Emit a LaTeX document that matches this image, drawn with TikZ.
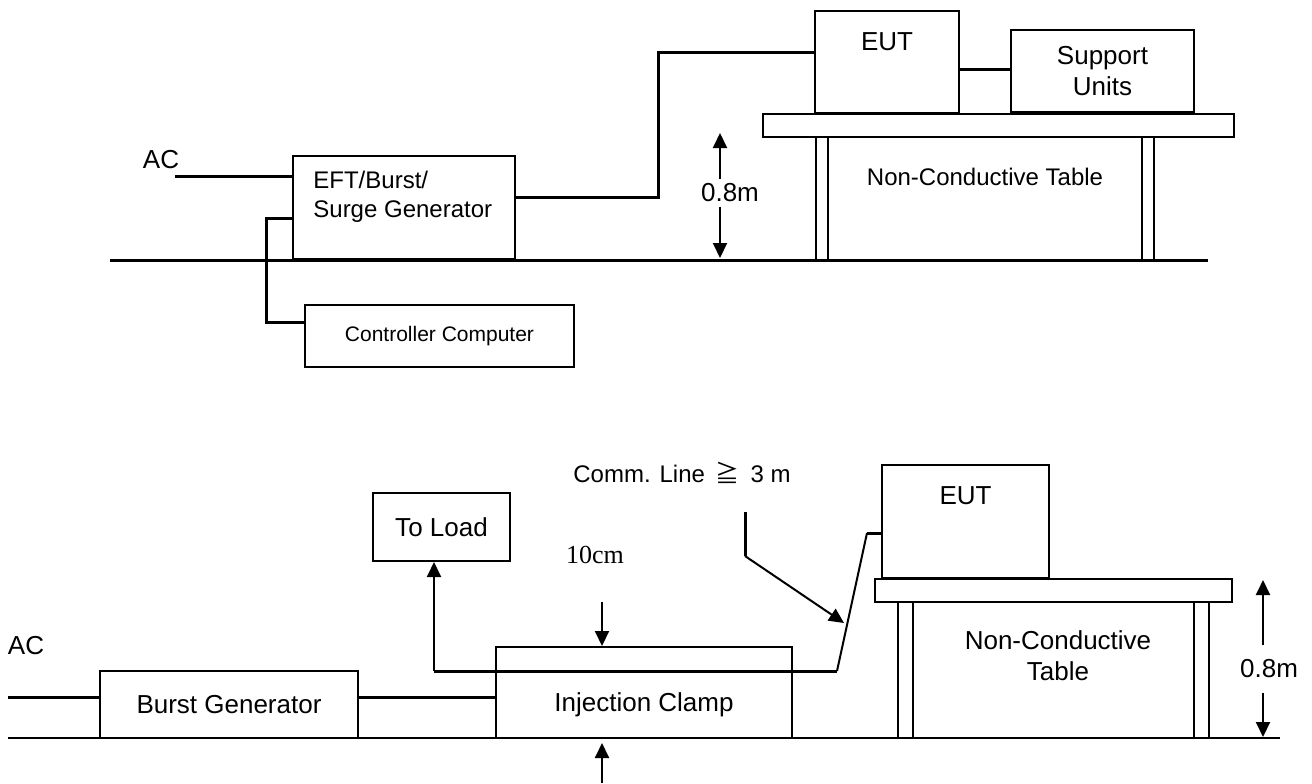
\documentclass[tikz,border=0pt]{standalone}
\usepackage{fontspec}
\setmainfont{Liberation Sans}
\newfontfamily\serif{Liberation Serif}
\newfontfamily\cjk{Noto Sans CJK JP}
\usetikzlibrary{arrows.meta}
\tikzset{
box/.style={draw, rectangle, line width=1pt, inner sep=0pt},
wire/.style={line width=1.5pt},
thin wire/.style={line width=1pt},
dim/.style={line width=1pt, -{Triangle[length=7.5pt,width=7pt]}},
big/.style={font=\fontsize{13}{15.5}\selectfont},
mid/.style={font=\fontsize{12}{14.5}\selectfont},
small/.style={font=\fontsize{10.5}{12.5}\selectfont},
}
\begin{document}
\begin{tikzpicture}[x=0.5pt,y=-0.5pt,big]
\useasboundingbox (0,0) rectangle (1312,783);
% ---------------- upper set-up ----------------
\draw[wire] (110,260) -- (1208,260);
\node[box, minimum width=111pt, minimum height=51.5pt] (gen) at (404,207.5) {};
\node[mid, anchor=north west, align=left, inner sep=0pt] (gentxt) at (313,171) {EFT/Burst/\\Surge Generator};
\node[box, minimum width=134.5pt, minimum height=31pt, small] (ctrl) at (439.5,336) {Controller Computer};
\node[box, minimum width=72pt, minimum height=51pt,
  label={[below=11pt, inner sep=0pt]north:EUT}] (eut) at (887,62) {};
\node[box, minimum width=91.5pt, minimum height=41pt, align=center] (sup) at (1102.5,71) {Support\\Units};
% the table
\node[box, minimum width=235.5pt, minimum height=11.5pt] (desk) at (998.5,125.5) {};
\node[box, minimum width=6pt, minimum height=61.5pt] (legl) at (822,198.5) {};
\node[box, minimum width=6pt, minimum height=61.5pt] (legr) at (1148,198.5) {};
\node[mid] (desktxt) at (985,177) {Non-Conductive Table};
% the wires
\node (ac) at (161,160) {AC};
\coordinate (acin) at (175,176);
\draw[wire] (acin) -- (acin -| gen.west);
\coordinate (up) at (658,197);
\draw[wire] (gen.east |- up) -- (up) -- (658,52) -- (eut.west |- {(0,52)});
\draw[wire] (eut.east |- {(0,69)}) -- (sup.west |- {(0,69)});
\coordinate (down) at (266,218);
\draw[wire] (gen.west |- down) -- (down) -- (266,322) -- (ctrl.west |- {(0,322)});
% the height
\node[inner sep=2pt] (hgt) at (730,193) {0.8m};
\coordinate (htop) at (720,133);
\coordinate (hbot) at (720,258);
\draw[dim] (hgt.north -| htop) -- (htop);
\draw[dim] (hgt.south -| hbot) -- (hbot);
% ---------------- lower set-up ----------------
\draw[thin wire] (8,738) -- (1280,738);
\node[box, minimum width=129pt, minimum height=33.5pt] (burst) at (229,704.5) {Burst Generator};
\node[box, minimum width=148pt, minimum height=33.5pt] (clamp) at (644,704.5) {Injection Clamp};
\node[box, minimum width=148pt, minimum height=12pt] (strip) at (644,659) {};
\node[box, minimum width=68.5pt, minimum height=34pt] (toload) at (441.5,527) {To Load};
\node[box, minimum width=83.5pt, minimum height=56.5pt,
  label={[below=11pt, inner sep=0pt]north:EUT}] (eutb) at (965.5,521.5) {};
% the table
\node[box, minimum width=178.5pt, minimum height=11.5pt] (deskb) at (1053.5,590.5) {};
\node[box, minimum width=7.5pt, minimum height=68pt] (leglb) at (905.5,670) {};
\node[box, minimum width=7.5pt, minimum height=68pt] (legrb) at (1201.5,670) {};
\node[align=center] (deskbtxt) at (1058,656) {Non-Conductive\\Table};
% the wires
\node (acb) at (26,646) {AC};
\coordinate (acbin) at (8,697);
\draw[wire] (acbin) -- (acbin -| burst.west);
\draw[wire] (burst.east |- acbin) -- (clamp.west |- acbin);
\coordinate (tap) at (434,671);
\coordinate (kinka) at (837,671);
\coordinate (kinkb) at (867,533);
\draw[dim] (tap) -- (toload.south -| tap);
\draw[wire] (tap) -- (kinka);
\draw[thin wire] (kinka) -- (kinkb);
\draw[wire] (kinkb) -- (kinkb -| eutb.west);
% the comm line
\node[mid] (comm) at (682,473) {Comm. Line\hspace{0.45em}{\cjk ≧}\hspace{0.45em}3 m};
\coordinate (ptr) at (745,512);
\coordinate (bend) at (745,556);
\draw[wire] (ptr) -- (bend);
\draw[dim] (bend) -- (844,623);
% the 10cm
\node[font=\serif\fontsize{13}{15}\selectfont] (gap) at (595,555) {10cm};
\coordinate (press) at (602,602);
\coordinate (lift) at (602,783);
\draw[dim] (press) -- (press |- strip.north);
\draw[dim] (lift) -- (602,743);
% the height
\node[inner sep=7pt] (hgtb) at (1269,669) {0.8m};
\coordinate (hbtop) at (1263,580);
\coordinate (hbbot) at (1263,737);
\draw[dim] (hgtb.north -| hbtop) -- (hbtop);
\draw[dim] (hgtb.south -| hbbot) -- (hbbot);
\end{tikzpicture}
\end{document}
